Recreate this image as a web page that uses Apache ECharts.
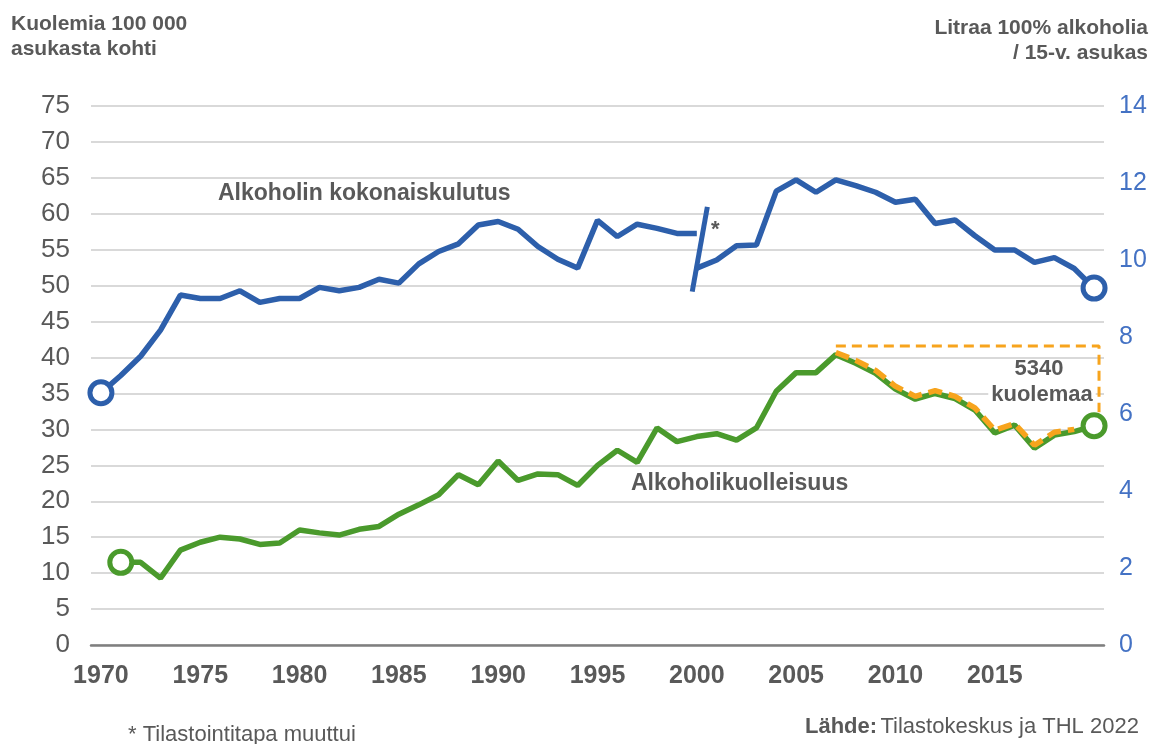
<!DOCTYPE html>
<html>
<head>
<meta charset="utf-8">
<script src="https://cdn.jsdelivr.net/npm/echarts@6/dist/echarts.min.js"></script>
<style>
  html, body { margin: 0; padding: 0; background: #fff; }
  #chart { width: 1153px; height: 744px; }
</style>
</head>
<body>
<div id="chart"></div>
<script>
// ---- Data ----
const xTickYears = [1970, 1975, 1980, 1985, 1990, 1995, 2000, 2005, 2010, 2015];
const leftTicks = [0, 75, 5];   // min, max, interval (deaths / 100 000)
const rightTicks = [0, 14, 2];  // min, max, interval (litres)

// Total alcohol consumption, litres 100% alcohol per inhabitant aged 15+ (old method)
const consYearsOld = [1970,1971,1972,1973,1974,1975,1976,1977,1978,1979,1980,1981,1982,1983,1984,1985,1986,1987,1988,1989,1990,1991,1992,1993,1994,1995,1996,1997,1998,1999,2000];
const consOld = [6.55,7.0,7.5,8.18,9.09,9.0,9.0,9.2,8.9,9.0,9.0,9.29,9.2,9.29,9.5,9.4,9.9,10.22,10.42,10.91,11.0,10.8,10.35,10.02,9.79,11.03,10.61,10.93,10.82,10.69,10.69];
// Statistical method changed in 2000
const consYearsNew = [2000,2001,2002,2003,2004,2005,2006,2007,2008,2009,2010,2011,2012,2013,2014,2015,2016,2017,2018,2019,2020];
const consNew = [9.79,10.0,10.37,10.39,11.79,12.08,11.76,12.08,11.93,11.76,11.5,11.58,10.95,11.04,10.63,10.26,10.26,9.94,10.06,9.78,9.27];
// Break mark drawn across the 2000 discontinuity
const breakYears = [1999.77, 2000.53];
const breakValues = [9.18, 11.38];

// Alcohol-related mortality, deaths per 100 000 inhabitants
const mortYears = [1971,1972,1973,1974,1975,1976,1977,1978,1979,1980,1981,1982,1983,1984,1985,1986,1987,1988,1989,1990,1991,1992,1993,1994,1995,1996,1997,1998,1999,2000,2001,2002,2003,2004,2005,2006,2007,2008,2009,2010,2011,2012,2013,2014,2015,2016,2017,2018,2019,2020];
const mortality = [11.5,11.5,9.3,13.2,14.3,15.0,14.75,14.0,14.2,16.0,15.6,15.3,16.1,16.5,18.2,19.5,20.9,23.7,22.3,25.6,22.9,23.8,23.7,22.2,25.0,27.1,25.4,30.2,28.3,29.0,29.4,28.5,30.2,35.3,37.9,37.9,40.4,39.2,37.8,35.6,34.2,35.0,34.3,32.7,29.5,30.6,27.4,29.2,29.7,30.5];

// Orange dashed trace since 2007 and the dashed box marking the deaths
const orangeYears = [2007,2008,2009,2010,2011,2012,2013,2014,2015,2016,2017,2018,2019];
const orangeValues = [40.7,39.6,38.2,36.0,34.6,35.4,34.6,33.0,29.9,30.8,27.8,29.6,30.0];
const boxYears = [2007, 2020.25, 2020.25];
const boxValues = [41.6, 41.6, 32.4];

// ---- Styles ----
const BLUE = '#2D5FAB';
const GREEN = '#4A9A2C';
const ORANGE = '#F7A41D';
const GRAY = '#595959';
const FONT = '"Liberation Sans", Arial, sans-serif';

const zip = (xs, ys) => xs.map((x, i) => [x, ys[i]]);

const chart = echarts.init(document.getElementById('chart'), null, { renderer: 'canvas' });

function lineSeries(name, axis, xs, ys, color, ends, z) {
  return {
    name, type: 'line', yAxisIndex: axis, z,
    data: zip(xs, ys),
    symbol: (v, p) => ends.includes(p.dataIndex) ? 'circle' : 'none',
    symbolSize: 22, showAllSymbol: true,
    lineStyle: { color, width: 5.5 },
    itemStyle: { color: '#fff', borderColor: color, borderWidth: 5 }
  };
}

chart.setOption({
  animation: false,
  backgroundColor: '#fff',
  grid: { left: 91, right: 49, top: 106, bottom: 99, containLabel: false },
  xAxis: {
    type: 'value',
    min: 1969.5,
    max: 2020.5,
    splitLine: { show: false },
    axisTick: { show: false },
    axisLine: { show: true, onZero: false, lineStyle: { color: '#7F7F7F', width: 2.5 } },
    axisLabel: {
      customValues: xTickYears,
      formatter: v => String(v),
      color: GRAY, fontFamily: FONT, fontSize: 25, fontWeight: 'bold', margin: 19
    }
  },
  yAxis: [
    {
      type: 'value', min: leftTicks[0], max: leftTicks[1], interval: leftTicks[2],
      axisLine: { show: false }, axisTick: { show: false },
      splitLine: { lineStyle: { color: '#D9D9D9', width: 2 } },
      axisLabel: { color: GRAY, fontFamily: FONT, fontSize: 26, margin: 21 }
    },
    {
      type: 'value', min: rightTicks[0], max: rightTicks[1], interval: rightTicks[2],
      position: 'right',
      axisLine: { show: false }, axisTick: { show: false },
      splitLine: { show: false },
      axisLabel: { color: '#4472C4', fontFamily: FONT, fontSize: 25, margin: 15 }
    }
  ],
  series: [
    {
      name: 'box', type: 'line', yAxisIndex: 0, z: 3,
      data: zip(boxYears, boxValues), symbol: 'none',
      lineStyle: { color: ORANGE, width: 3, type: [10, 6] }
    },
    lineSeries('Alkoholikuolleisuus', 0, mortYears, mortality, GREEN, [0], 4),
    {
      name: 'orange', type: 'line', yAxisIndex: 0, z: 5,
      data: zip(orangeYears, orangeValues), symbol: 'none',
      lineStyle: { color: ORANGE, width: 5.5, type: [14, 7] }
    },
    {
      name: 'Alkoholikuolleisuus-loppu', type: 'line', yAxisIndex: 0, z: 6,
      data: [zip(mortYears, mortality)[mortYears.length - 1]],
      symbol: 'circle', symbolSize: 22,
      itemStyle: { color: '#fff', borderColor: GREEN, borderWidth: 5 }
    },
    lineSeries('kulutus-vanha', 1, consYearsOld, consOld, BLUE, [0], 4),
    lineSeries('kulutus-uusi', 1, consYearsNew, consNew, BLUE, [consYearsNew.length - 1], 4),
    {
      name: 'break', type: 'line', yAxisIndex: 1, z: 4,
      data: zip(breakYears, breakValues), symbol: 'none',
      lineStyle: { color: BLUE, width: 5 }
    }
  ],
  graphic: [
    { type: 'text', x: 11, y: 14, style: { text: 'Kuolemia 100 000', fill: GRAY, font: 'bold 21px ' + FONT } },
    { type: 'text', x: 11, y: 39, style: { text: 'asukasta kohti', fill: GRAY, font: 'bold 21px ' + FONT } },
    { type: 'text', x: 1148, y: 18, style: { text: 'Litraa 100% alkoholia', fill: GRAY, font: 'bold 21px ' + FONT, align: 'right' } },
    { type: 'text', x: 1148, y: 43, style: { text: '/ 15-v. asukas', fill: GRAY, font: 'bold 21px ' + FONT, align: 'right' } },
    { type: 'text', x: 218, y: 182, style: { text: 'Alkoholin kokonaiskulutus', fill: GRAY, font: 'bold 23px ' + FONT } },
    { type: 'text', x: 631, y: 472, style: { text: 'Alkoholikuolleisuus', fill: GRAY, font: 'bold 23px ' + FONT } },
    { type: 'text', x: 711, y: 219, style: { text: '*', fill: GRAY, font: 'bold 22px ' + FONT } },
    { type: 'text', x: 1039, y: 369, z: 10, style: { text: '5340', fill: GRAY, font: 'bold 22px ' + FONT, align: 'center', verticalAlign: 'middle' } },
    { type: 'text', x: 1042, y: 395, z: 10, style: { text: 'kuolemaa', fill: GRAY, font: 'bold 22px ' + FONT, align: 'center', verticalAlign: 'middle', backgroundColor: '#fff', padding: [1, 3] } },
    { type: 'text', x: 128, y: 724, style: { text: '* Tilastointitapa muuttui', fill: GRAY, font: '22px ' + FONT } },
    { type: 'text', x: 805, y: 716, style: { rich: { b: { font: 'bold 22px ' + FONT, fill: GRAY }, n: { font: '22px ' + FONT, fill: GRAY } }, text: '{b|Lähde:} {n|Tilastokeskus ja THL 2022}' } }
  ]
});
</script>
</body>
</html>
